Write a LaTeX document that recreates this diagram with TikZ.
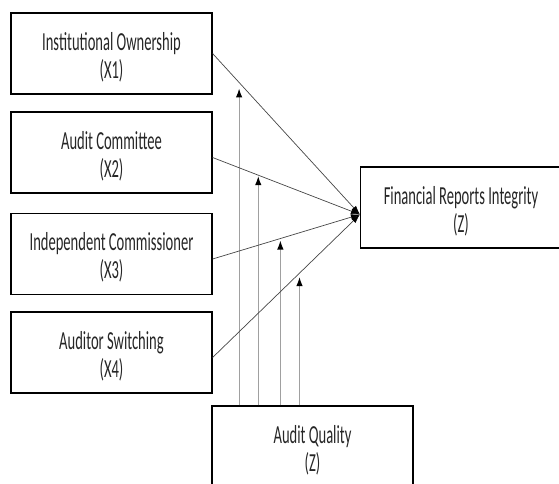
\documentclass[tikz,border=0pt]{standalone}
\usepackage{fontspec}
\setmainfont[FakeStretch=0.56]{Carlito}
\usetikzlibrary{arrows.meta}
\definecolor{linegray}{RGB}{70,70,70}
\definecolor{vgray}{RGB}{160,160,160}
\newcommand\toppad{\rule{0pt}{25pt}}
\tikzset{
  varbox/.style={draw=black, line width=1.2pt, minimum width=201pt, minimum height=81pt,
    inner sep=0pt, align=center, font=\fontsize{26}{28}\selectfont, text=black!85},
  path/.style={draw=linegray, line width=0.7pt, -{Latex[length=9pt,width=6pt,color=black]}},
  modarrow/.style={draw=vgray, line width=1.1pt, -{Latex[length=9pt,width=6.5pt,color=black]}}
}
\begin{document}
\begin{tikzpicture}[x=1pt,y=-1pt]
\useasboundingbox (0,0) rectangle (559,483);
\clip (0,0) rectangle (559,483);
\node[varbox] (x1) at (111.5,53.5) {\toppad Institutional Ownership\\(X1)};
\node[varbox] (x2) at (111.5,152.5) {\toppad Audit Committee\\(X2)};
\node[varbox] (x3) at (111.5,254) {\toppad Independent Commissioner\\(X3)};
\node[varbox] (x4) at (111.5,352.5) {\toppad Auditor Switching\\(X4)};
\node[varbox] (z) at (461,207.5) {\toppad Financial Reports Integrity\\(Z)};
\node[varbox] (aq) at (312.5,446.5) {\toppad Audit Quality\\(Z)};
\coordinate (zt) at ([yshift=-7pt]z.west);
\coordinate (s1) at (x1.east);
\coordinate (s2) at ([yshift=-5pt]x2.east);
\coordinate (s3) at ([yshift=-5pt]x3.east);
\coordinate (s4) at ([yshift=-5pt]x4.east);
\path (s1) -- (zt) coordinate[pos=0.18] (m1);
\path (s2) -- (zt) coordinate[pos=0.31] (m2);
\path (s3) -- (zt) coordinate[pos=0.46] (m3);
\path (s4) -- (zt) coordinate[pos=0.59] (m4);
\draw[modarrow] (aq.north -| m1) -- ([yshift=-6pt]m1);
\draw[modarrow] (aq.north -| m2) -- ([yshift=-1pt]m2);
\draw[modarrow] (aq.north -| m3) -- ([yshift=-2pt]m3);
\draw[modarrow] (aq.north -| m4) -- ([yshift=-4pt]m4);
\draw[path] (s1) -- (zt);
\draw[path] (s2) -- (zt);
\draw[path] (s3) -- (zt);
\draw[path] (s4) -- (zt);
\end{tikzpicture}
\end{document}
